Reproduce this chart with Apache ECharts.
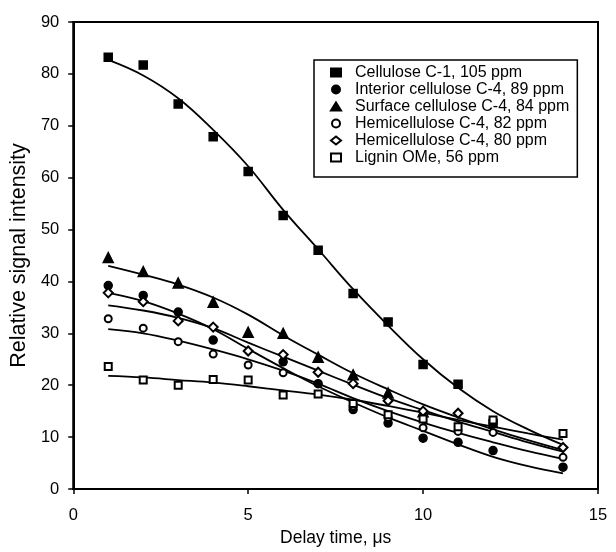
<!DOCTYPE html>
<html>
<head>
<meta charset="utf-8">
<script src="https://cdn.jsdelivr.net/npm/echarts@6/dist/echarts.min.js"></script>
<style>
  html, body { margin: 0; padding: 0; background: #fff; }
  #chart { width: 616px; height: 552px; }
</style>
</head>
<body>
<div id="chart"></div>
<script>
// delay times (µs) for the measured points and for the fit curves
const delays = [1, 2, 3, 4, 5, 6, 7, 8, 9, 10, 11, 12, 14]
const fitDelays = [1, 2, 3, 4, 5, 6, 7, 8, 9, 10, 11, 12, 13, 14]

// measured relative intensities (null = not visible in the figure)
const cellC1 = [83.2, 81.7, 74.2, 67.9, 61.2, 52.7, 46.0, 37.7, 32.2, 24.0, 20.2, 12.6, null]
const intC4 = [39.2, 37.3, 34.1, 28.7, null, 24.5, 20.3, 15.3, 12.7, 9.8, 9.0, 7.4, 4.2]
const surfC4 = [44.6, 41.9, 39.7, 36.0, 30.2, 30.0, 25.4, 22.0, 18.5, 14.9, null, null, null]
const hemi82 = [32.8, 31.0, 28.4, 26.0, 23.9, 22.4, null, 16.0, 13.8, 11.8, 11.1, 10.9, 6.1]
const hemi80 = [37.8, 36.1, 32.4, 31.2, 26.6, 25.9, 22.5, 20.3, 17.0, 15.0, 14.6, null, 8.0]
const ligOMe = [23.6, 21.0, 20.0, 21.1, 21.0, 18.1, 18.3, 16.5, 14.3, 13.5, 12.0, 13.3, 10.7]

// fitted curves
const fitCellC1 = [82.7, 79.7, 75.3, 69.2, 62.2, 53.8, 46.2, 38.5, 31.5, 25.0, 19.5, 15.0, 11.5, 8.5]
const fitIntC4 = [37.8, 36.2, 33.8, 30.8, 27.0, 23.3, 19.8, 16.7, 13.8, 11.2, 8.6, 6.2, 4.4, 3.0]
const fitSurfC4 = [43.0, 41.3, 39.4, 36.9, 33.6, 29.6, 25.9, 22.3, 19.2, 16.3, 13.8, 11.5, 9.4, 7.5]
const fitHemi82 = [30.8, 30.0, 28.6, 26.9, 25.0, 22.8, 20.3, 17.5, 15.0, 12.8, 10.8, 9.0, 7.3, 5.8]
const fitHemi80 = [35.4, 34.4, 33.0, 31.0, 28.2, 25.5, 22.8, 20.1, 17.5, 15.2, 13.0, 11.0, 9.0, 7.2]
const fitLigOMe = [21.8, 21.5, 21.0, 20.5, 19.8, 19.0, 18.2, 17.2, 16.0, 14.7, 13.3, 12.0, 10.7, 9.5]

const xTicks = [0, 5, 10, 15]

const pairs = (xs, ys) => xs.map((x, i) => [x, ys[i]]).filter((p) => p[1] !== null)

const font = 'Liberation Sans, Arial, sans-serif'

const measured = [
  { name: 'Cellulose C-1, 105 ppm', data: cellC1, fit: fitCellC1, symbol: 'rect', size: 8 },
  { name: 'Interior cellulose C-4, 89 ppm', data: intC4, fit: fitIntC4, symbol: 'circle', size: 8 },
  { name: 'Surface cellulose C-4, 84 ppm', data: surfC4, fit: fitSurfC4, symbol: 'triangle', size: 10 },
  { name: 'Hemicellulose C-4, 82 ppm', data: hemi82, fit: fitHemi82, symbol: 'emptyCircle', size: 7 },
  { name: 'Hemicellulose C-4, 80 ppm', data: hemi80, fit: fitHemi80, symbol: 'emptyDiamond', size: 9 },
  { name: 'Lignin OMe, 56 ppm', data: ligOMe, fit: fitLigOMe, symbol: 'emptyRect', size: 7 },
]

const series = []
measured.forEach((m) => {
  series.push({
    name: m.name + ' fit',
    type: 'line',
    smooth: 0.4,
    showSymbol: false,
    silent: true,
    z: 2,
    lineStyle: { color: '#000', width: 1.8 },
    data: pairs(fitDelays, m.fit),
  })
})
measured.forEach((m) => {
  series.push({
    name: m.name,
    type: 'scatter',
    symbol: m.symbol,
    symbolSize: m.size,
    z: 3,
    itemStyle: { color: '#000', borderColor: '#000', borderWidth: 1.5, opacity: 1 },
    emphasis: { disabled: true },
    data: pairs(delays, m.data),
  })
})

const chart = echarts.init(document.getElementById('chart'))
chart.setOption({
  animation: false,
  backgroundColor: '#fff',
  grid: {
    left: 72,
    right: 18,
    top: 22,
    bottom: 62,
    show: true,
    borderColor: '#000',
    borderWidth: 2,
  },
  legend: {
    data: measured.map((m) => m.name),
    orient: 'vertical',
    left: 314,
    top: 60,
    padding: [4, 8, 11, 16],
    itemGap: 0,
    itemWidth: 10,
    itemHeight: 8,
    backgroundColor: '#fff',
    borderColor: '#000',
    borderWidth: 1.5,
    borderRadius: 0,
    selectedMode: false,
    textStyle: { fontFamily: font, fontSize: 16, color: '#000', lineHeight: 17, padding: [0, 0, 0, 9] },
  },
  xAxis: {
    type: 'value',
    min: 0,
    max: 15,
    interval: 5,
    name: 'Delay time, μs',
    nameLocation: 'middle',
    nameGap: 40,
    nameTextStyle: { fontFamily: font, fontSize: 17.5, color: '#000' },
    axisLine: { lineStyle: { color: '#000', width: 2 } },
    axisTick: { length: 5, lineStyle: { color: '#000', width: 1.5 } },
    axisLabel: {
      fontFamily: font,
      fontSize: 16.5,
      color: '#000',
      margin: 18,
      formatter: (v) => (xTicks.includes(v) ? String(v) : ''),
    },
    splitLine: { show: false },
  },
  yAxis: {
    type: 'value',
    min: 0,
    max: 90,
    interval: 10,
    name: 'Relative signal intensity',
    nameLocation: 'middle',
    nameGap: 42,
    nameTextStyle: { fontFamily: font, fontSize: 21.5, color: '#000' },
    axisLine: { show: true, lineStyle: { color: '#000', width: 2 } },
    axisTick: { show: true, length: 5, lineStyle: { color: '#000', width: 1.5 } },
    axisLabel: { fontFamily: font, fontSize: 16.5, color: '#000', margin: 14 },
    splitLine: { show: false },
  },
  series: series,
})
</script>
</body>
</html>
